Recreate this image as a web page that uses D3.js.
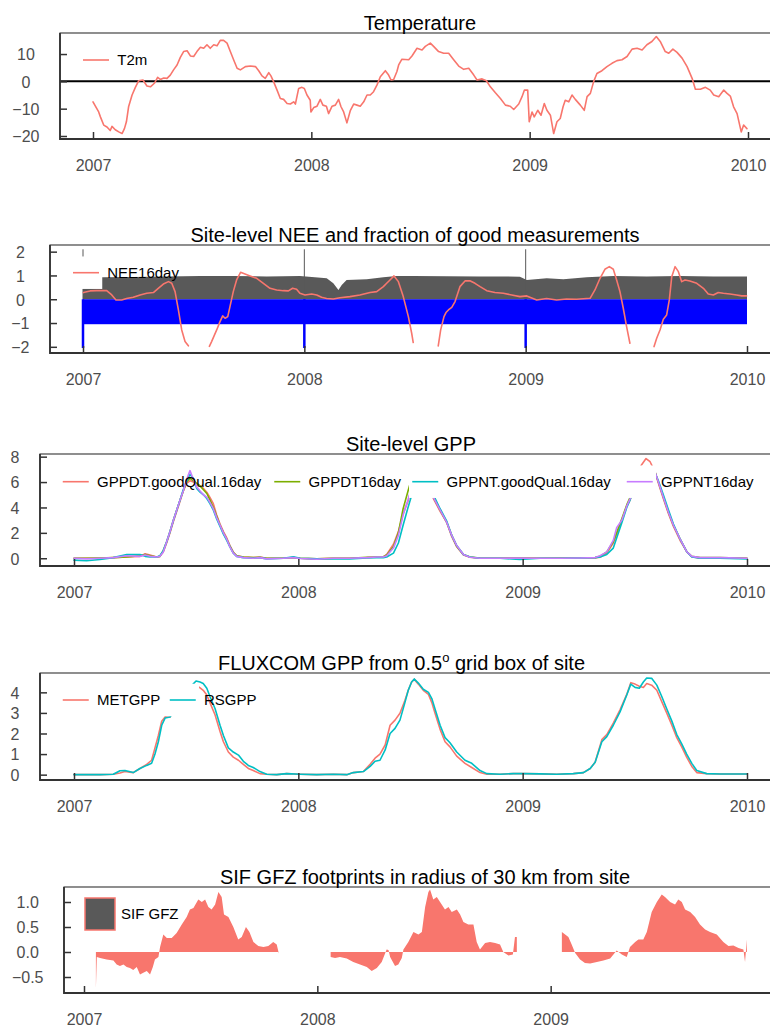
<!DOCTYPE html>
<html>
<head>
<meta charset="utf-8">
<script src="https://cdn.jsdelivr.net/npm/d3@7"></script>
<style>
  html, body { margin: 0; padding: 0; background: #fff; }
  svg { display: block; font-family: "Liberation Sans", Arial, Helvetica, sans-serif; }
</style>
</head>
<body>
<svg id="chart" width="770" height="1027"></svg>
<script>
// ---------------------------------------------------------------------------
// Data (time axis in decimal years)
// ---------------------------------------------------------------------------
const yearTicks = [2007, 2008, 2009, 2010];
const sifYearTicks = [2007, 2008, 2009];

// 2 m air temperature (deg C)
const t2m = [
  [2007.000,-7.5],[2007.011,-9.1],[2007.026,-11.2],[2007.034,-13],[2007.049,-16],[2007.064,-16.7],
  [2007.079,-18],[2007.087,-16.5],[2007.102,-17.7],[2007.118,-18.5],[2007.133,-19.1],[2007.144,-17.3],
  [2007.153,-14.8],[2007.163,-9.3],[2007.179,-5],[2007.194,-2.2],[2007.209,0.2],[2007.229,0.5],
  [2007.247,-1.7],[2007.263,-2],[2007.281,-0.7],[2007.296,1.5],[2007.308,0.7],[2007.324,1.2],
  [2007.339,1.1],[2007.354,2.3],[2007.369,4.2],[2007.385,6],[2007.400,8.8],[2007.415,10.9],
  [2007.431,11.2],[2007.446,9.3],[2007.461,9.1],[2007.476,10.9],[2007.492,12.5],[2007.507,12.1],
  [2007.522,13.4],[2007.537,12.1],[2007.553,13.4],[2007.568,13],[2007.583,15],[2007.598,15],
  [2007.614,14],[2007.629,10.9],[2007.644,7.9],[2007.660,4.8],[2007.675,4.2],[2007.698,5.4],
  [2007.721,5.6],[2007.744,5.4],[2007.759,3.9],[2007.774,2],[2007.789,1.1],[2007.805,3.2],
  [2007.815,2],[2007.827,-0.1],[2007.843,-3.2],[2007.858,-6.3],[2007.873,-6.6],[2007.889,-8.1],
  [2007.904,-8.3],[2007.919,-7.5],[2007.927,-8.3],[2007.942,-2.6],[2007.957,-2.2],[2007.968,-2.6],
  [2007.980,-5],[2007.995,-6.9],[2007.998,-11.2],[2008.011,-9.6],[2008.026,-9.1],[2008.041,-6.6],
  [2008.053,-8.7],[2008.069,-9.1],[2008.079,-11.8],[2008.095,-9.1],[2008.110,-8.7],[2008.125,-6.6],
  [2008.136,-9.3],[2008.148,-11.2],[2008.163,-15.2],[2008.179,-10.6],[2008.194,-8.3],[2008.209,-8.7],
  [2008.224,-9.1],[2008.240,-7.5],[2008.255,-5],[2008.270,-5],[2008.285,-3.8],[2008.301,-1.3],
  [2008.316,1.7],[2008.339,3.9],[2008.354,2.3],[2008.365,0.5],[2008.377,0.7],[2008.392,3.6],
  [2008.400,6],[2008.415,8.1],[2008.446,7.9],[2008.461,9.3],[2008.484,12.1],[2008.507,11.5],
  [2008.522,12.8],[2008.545,14],[2008.560,12.8],[2008.583,10.9],[2008.606,10.3],[2008.629,10.3],
  [2008.652,7.9],[2008.675,5.6],[2008.698,4.4],[2008.721,4.8],[2008.744,2.3],[2008.759,0.5],
  [2008.782,0.9],[2008.802,0.2],[2008.820,-2],[2008.843,-4.2],[2008.866,-6.3],[2008.889,-8.7],
  [2008.911,-9.1],[2008.927,-10.3],[2008.950,-8.3],[2008.965,-5.6],[2008.976,-3.2],[2008.991,-3.2],
  [2008.998,-14.8],[2009.011,-11.2],[2009.021,-13],[2009.037,-10.6],[2009.052,-12.4],[2009.067,-8.1],
  [2009.079,-10.6],[2009.095,-12.4],[2009.110,-19.1],[2009.125,-14.8],[2009.140,-13.6],[2009.153,-9.3],
  [2009.163,-6.9],[2009.179,-7.5],[2009.194,-5],[2009.209,-6.6],[2009.232,-8.7],[2009.250,-10.6],
  [2009.263,-5.6],[2009.278,-4.4],[2009.293,-0.1],[2009.308,2.9],[2009.331,3.9],[2009.354,5.4],
  [2009.377,6.6],[2009.400,7.6],[2009.423,7.9],[2009.446,9.1],[2009.469,11.8],[2009.492,12.1],
  [2009.515,11.5],[2009.537,13.4],[2009.560,14.6],[2009.580,16.4],[2009.598,14.6],[2009.621,10.9],
  [2009.637,10.3],[2009.656,11.8],[2009.675,10.6],[2009.698,8.5],[2009.721,5.4],[2009.744,1.1],
  [2009.759,-2.9],[2009.782,-2.9],[2009.805,-2.2],[2009.827,-3.2],[2009.843,-5],[2009.866,-5.6],
  [2009.889,-3.2],[2009.904,-4.4],[2009.919,-5.4],[2009.934,-9.3],[2009.950,-11.8],[2009.969,-18.5],
  [2009.980,-16],[2009.995,-17.3]
];

// Site-level NEE, 16-day smoothed (null = outside the plotted range)
const nee16day = [
  [2007.002,0.28],[2007.032,0.35],[2007.062,0.36],[2007.092,0.36],[2007.107,0.36],[2007.130,0.18],
  [2007.149,-0.03],[2007.175,-0.03],[2007.197,0.03],[2007.227,0.08],[2007.258,0.18],[2007.288,0.25],
  [2007.318,0.28],[2007.340,0.46],[2007.363,0.64],[2007.386,0.74],[2007.401,0.67],[2007.416,0.32],
  [2007.431,-0.45],[2007.446,-1.29],[2007.461,-1.78],[2007.476,-1.96],[2007.520,null],
  [2007.571,-1.98],[2007.581,-1.78],[2007.604,-1.29],[2007.619,-0.94],[2007.631,-0.7],[2007.642,-0.8],
  [2007.654,-0.73],[2007.664,-0.31],[2007.679,0.32],[2007.694,0.81],[2007.712,1.13],[2007.732,1.06],
  [2007.755,0.98],[2007.785,0.88],[2007.815,0.67],[2007.845,0.46],[2007.875,0.39],[2007.905,0.36],
  [2007.928,0.35],[2007.947,0.46],[2007.965,0.42],[2007.980,0.25],[2008.003,0.18],[2008.033,0.22],
  [2008.056,0.18],[2008.078,0.08],[2008.101,0.03],[2008.131,0.01],[2008.161,0.06],[2008.206,0.11],
  [2008.251,0.18],[2008.297,0.28],[2008.327,0.32],[2008.357,0.53],[2008.372,0.67],[2008.387,0.81],
  [2008.405,0.98],[2008.425,0.74],[2008.447,0.11],[2008.470,-0.73],[2008.485,-1.43],[2008.492,-1.82],
  [2008.550,null],
  [2008.605,-1.96],[2008.616,-1.29],[2008.631,-0.73],[2008.640,-0.56],[2008.651,-0.45],[2008.666,-0.34],
  [2008.681,-0.1],[2008.703,0.53],[2008.726,0.77],[2008.748,0.78],[2008.771,0.67],[2008.794,0.53],
  [2008.824,0.36],[2008.861,0.28],[2008.899,0.25],[2008.937,0.18],[2008.974,0.11],[2009.005,0.14],
  [2009.050,-0.03],[2009.095,0.03],[2009.140,-0.03],[2009.185,0.01],[2009.230,0.0],[2009.291,0.04],
  [2009.313,0.39],[2009.336,0.88],[2009.358,1.26],[2009.378,1.37],[2009.396,1.26],[2009.411,0.81],
  [2009.426,0.32],[2009.441,-0.38],[2009.456,-1.15],[2009.471,-1.85],[2009.520,null],
  [2009.580,-1.99],[2009.592,-1.64],[2009.607,-1.29],[2009.622,-0.84],[2009.637,-0.66],[2009.649,-0.03],
  [2009.660,0.95],[2009.675,1.37],[2009.690,1.16],[2009.705,0.74],[2009.720,0.81],[2009.742,0.77],
  [2009.773,0.67],[2009.803,0.46],[2009.825,0.22],[2009.848,0.18],[2009.870,0.28],[2009.893,0.25],
  [2009.923,0.22],[2009.953,0.18],[2009.976,0.14],[2009.998,0.14]
];

// Fraction of good measurements
const goodFraction = [
  [2007.000,0.90],[2007.092,0.92],[2007.227,0.94],[2007.378,0.96],[2007.529,0.98],[2007.679,0.98],
  [2007.830,0.96],[2007.980,0.98],[2008.101,0.88],[2008.131,0.67],[2008.154,0.39],[2008.169,0.60],
  [2008.191,0.81],[2008.282,0.84],[2008.357,0.92],[2008.417,0.98],[2008.492,0.98],[2008.794,0.96],
  [2008.974,0.95],[2009.005,0.81],[2009.095,0.88],[2009.170,0.84],[2009.276,0.92],[2009.396,0.98],
  [2009.547,0.96],[2009.697,0.98],[2009.848,0.96],[2010.000,0.96]
];
// Quality flag band and year-start flags
const qcSpan = [2007.0, 2010.0];
const qcLevel = -1.05;
const flagYears = [2007, 2008, 2009];
const flagHigh = 2.1;
const flagLow = -2.05;

// Site-level GPP (four partitioning variants)
const gppTime = [
  2007.000,2007.056,2007.116,2007.175,2007.235,2007.294,2007.317,2007.339,2007.369,2007.383,
  2007.398,2007.413,2007.428,2007.443,2007.458,2007.473,2007.487,2007.502,2007.517,2007.532,
  2007.547,2007.562,2007.577,2007.592,2007.606,2007.621,2007.636,2007.651,2007.666,2007.681,
  2007.695,2007.710,2007.725,2007.755,2007.799,2007.829,2007.859,2007.933,2007.978,2008.008,
  2008.082,2008.156,2008.230,2008.305,2008.350,2008.379,2008.394,2008.424,2008.446,2008.467,
  2008.489,2008.516,2008.543,2008.574,2008.602,2008.632,2008.662,2008.684,2008.706,2008.736,
  2008.765,2008.810,2008.899,2008.988,2009.078,2009.167,2009.256,2009.323,2009.345,2009.375,
  2009.404,2009.419,2009.442,2009.464,2009.479,2009.506,2009.528,2009.550,2009.568,2009.590,
  2009.605,2009.627,2009.650,2009.672,2009.702,2009.732,2009.754,2009.791,2009.880,2010.000
];
const gppDTgood = [
  0,0,0,0.05,0.1,0.15,0.35,0.25,0.1,0.15,
  0.5,1.2,2.0,2.9,3.7,4.5,5.3,5.9,6.1,6.0,
  5.9,5.7,5.5,5.2,4.8,4.3,3.4,2.7,2.1,1.6,
  1.0,0.5,0.2,0.1,0.05,0.1,0,0,0.05,0,
  -0.05,0,0,0.05,0.1,0.1,0.3,1.1,2.1,3.5,
  4.5,6.2,8.6,8.4,4.7,3.7,2.8,1.7,0.9,0.26,
  0.08,0,0,0.02,0,0,0.02,0.03,0.08,0.4,
  1.2,1.9,3.0,4.1,4.6,6.0,7.3,7.85,7.6,6.8,
  5.9,4.7,3.5,2.5,1.4,0.5,0.13,0,0,0
];
const gppDT = [
  0,0,0.02,0.05,0.1,0.2,0.3,0.2,0.1,0.15,
  0.6,1.3,2.1,3.0,3.8,4.6,5.3,6.0,6.3,6.1,
  5.9,5.7,5.4,5.1,4.6,4.0,3.3,2.6,2.0,1.5,
  0.95,0.45,0.2,0.1,0.05,0.08,0,0,0.05,0,
  -0.05,0,0,0.08,0.1,0.12,0.25,0.9,2.0,3.9,
  5.3,7.0,9.0,8.6,4.8,3.8,2.8,1.8,0.95,0.3,
  0.1,0.02,0,0.02,0,0.02,0.02,0.05,0.15,0.5,
  1.3,2.0,3.1,4.2,4.8,6.2,7.1,7.2,7.1,6.8,
  6.0,4.8,3.6,2.6,1.5,0.5,0.15,0.05,0.05,0
];
const gppNTgood = [
  -0.15,-0.2,-0.1,0.05,0.3,0.3,0.15,0.1,0.1,0.2,
  0.6,1.3,2.1,3.0,3.8,4.6,5.4,6.1,6.6,6.3,
  5.5,5.2,5.0,4.7,4.3,3.8,3.1,2.5,1.9,1.4,
  0.9,0.4,0.15,0.05,0,0.05,-0.05,0,0.12,0,
  -0.05,-0.05,-0.05,0.02,0.05,0.05,0.1,0.4,1.2,2.6,
  4.0,5.6,8.4,8.5,5.0,3.9,2.9,1.8,1.0,0.3,
  0.1,0,0,-0.1,0,0,0.02,0.05,0.1,0.3,
  0.8,1.6,2.8,4.0,4.6,5.9,7.0,7.1,7.0,6.7,
  6.1,5.0,3.8,2.7,1.5,0.5,0.1,0,0,-0.05
];
const gppNT = [
  0,-0.05,0,0.05,0.2,0.15,0.25,0.15,0.1,0.15,
  0.5,1.3,2.1,3.0,3.8,4.6,5.3,6.2,6.9,6.2,
  5.6,5.3,5.0,4.8,4.4,3.9,3.2,2.6,2.0,1.5,
  0.9,0.4,0.15,0.05,0,0.05,-0.05,0,0.05,-0.02,
  -0.08,0,0,0.05,0.1,0.1,0.2,0.8,1.8,3.4,
  4.6,6.3,8.5,8.4,4.8,3.8,2.8,1.8,1.0,0.3,
  0.08,0,0,0.02,0,0,0.02,0.05,0.2,0.5,
  1.4,2.4,3.0,4.1,4.7,6.0,7.0,7.2,7.1,6.8,
  6.0,4.8,3.6,2.6,1.5,0.5,0.15,0.05,0.05,0
];

// FLUXCOM GPP (0.5 degree grid box)
const fluxTime = [
  2007.000,2007.116,2007.175,2007.205,2007.227,2007.264,2007.294,2007.324,2007.346,2007.361,
  2007.376,2007.391,2007.406,2007.428,2007.450,2007.495,2007.531,2007.544,2007.562,2007.576,
  2007.592,2007.606,2007.629,2007.651,2007.666,2007.688,2007.710,2007.733,2007.755,2007.777,
  2007.799,2007.829,2007.859,2007.904,2007.948,2008.008,2008.082,2008.156,2008.216,2008.245,
  2008.290,2008.320,2008.342,2008.364,2008.387,2008.409,2008.431,2008.453,2008.475,2008.490,
  2008.505,2008.517,2008.535,2008.557,2008.580,2008.595,2008.609,2008.632,2008.654,2008.676,
  2008.706,2008.743,2008.773,2008.810,2008.840,2008.899,2008.958,2009.003,2009.078,2009.152,
  2009.226,2009.271,2009.301,2009.323,2009.353,2009.375,2009.404,2009.434,2009.464,2009.482,
  2009.501,2009.520,2009.538,2009.553,2009.575,2009.598,2009.620,2009.642,2009.665,2009.687,
  2009.709,2009.731,2009.754,2009.776,2009.820,2009.880,2009.999
];
const metGPP = [
  0,0,0.02,0.08,0.15,0.1,0.3,0.5,0.7,1.3,
  1.9,2.6,2.8,2.8,3.3,4.0,4.3,4.35,4.22,4.1,
  3.87,3.5,2.9,2.1,1.6,1.1,0.85,0.7,0.5,0.3,
  0.2,0.05,0.02,0,0.05,0.02,0,0.02,0,0.1,
  0.15,0.5,0.8,1.0,1.44,2.4,2.65,2.98,3.6,4.1,
  4.5,4.63,4.4,4.1,3.9,3.5,3.0,2.2,1.6,1.35,
  0.9,0.55,0.35,0.1,0.02,0.02,0.05,0.05,0.04,0.02,
  0.05,0.1,0.3,0.6,1.7,1.95,2.5,3.15,3.9,4.47,
  4.4,4.3,4.24,4.43,4.35,4.1,3.55,3.0,2.4,1.8,
  1.35,0.85,0.4,0.1,0.05,0.03,0.03
];
const rsGPP = [
  0,0,0.02,0.19,0.2,0.1,0.3,0.45,0.55,1.0,
  1.6,2.4,2.75,2.8,3.2,3.9,4.4,4.55,4.5,4.43,
  4.2,3.8,3.2,2.4,1.9,1.3,1.1,0.95,0.65,0.45,
  0.35,0.15,0.02,0,0.05,0.02,0,0.02,0,0.1,
  0.15,0.4,0.65,0.7,1.2,2.0,2.25,2.65,3.5,4.1,
  4.5,4.65,4.45,4.15,4.0,3.7,3.2,2.4,1.8,1.55,
  1.1,0.7,0.55,0.2,0.05,0.02,0.05,0.05,0.04,0.02,
  0.05,0.1,0.3,0.6,1.6,1.85,2.4,3.05,3.87,4.4,
  4.24,4.2,4.5,4.7,4.68,4.35,3.8,3.2,2.6,1.95,
  1.5,1.0,0.55,0.2,0.05,0.03,0.03
];

// SIF GFZ footprints within 30 km (null = no retrievals)
const sifGFZ = [
  [2007.051,-0.73],[2007.055,-0.1],[2007.069,-0.12],[2007.097,-0.15],[2007.126,-0.17],[2007.140,-0.25],
  [2007.154,-0.28],[2007.169,-0.25],[2007.183,-0.3],[2007.197,-0.32],[2007.211,-0.36],[2007.226,-0.3],
  [2007.240,-0.45],[2007.252,-0.42],[2007.269,-0.38],[2007.283,-0.45],[2007.295,-0.3],[2007.304,-0.15],
  [2007.319,-0.1],[2007.326,0.1],[2007.340,0.35],[2007.355,0.28],[2007.376,0.28],[2007.397,0.38],
  [2007.419,0.55],[2007.440,0.7],[2007.454,0.85],[2007.469,0.88],[2007.490,1.05],[2007.505,1.0],
  [2007.519,1.05],[2007.533,0.9],[2007.547,0.85],[2007.562,0.95],[2007.576,1.2],[2007.590,1.1],
  [2007.600,0.75],[2007.619,0.7],[2007.640,0.5],[2007.661,0.25],[2007.676,0.3],[2007.694,0.5],
  [2007.709,0.4],[2007.726,0.2],[2007.747,0.12],[2007.769,0.1],[2007.790,0.12],[2007.811,0.2],
  [2007.826,0.15],[2007.835,-0.03],[2007.950,null],
  [2008.057,-0.1],[2008.076,-0.12],[2008.097,-0.1],[2008.126,-0.13],[2008.154,-0.2],[2008.183,-0.25],
  [2008.212,-0.3],[2008.233,-0.38],[2008.255,-0.32],[2008.276,-0.2],[2008.297,0.05],[2008.305,0.04],
  [2008.312,-0.1],[2008.333,-0.28],[2008.347,-0.25],[2008.362,-0.12],[2008.369,0.05],[2008.390,0.2],
  [2008.412,0.4],[2008.433,0.35],[2008.448,0.4],[2008.462,0.9],[2008.476,1.2],[2008.483,1.25],
  [2008.497,1.05],[2008.512,1.1],[2008.533,0.95],[2008.547,0.85],[2008.562,0.9],[2008.576,0.8],
  [2008.598,0.85],[2008.612,0.75],[2008.626,0.6],[2008.647,0.55],[2008.669,0.55],[2008.683,0.2],
  [2008.697,0.05],[2008.719,0.18],[2008.740,0.2],[2008.762,0.18],[2008.783,0.15],[2008.797,0.0],
  [2008.819,-0.07],[2008.838,-0.05],[2008.847,0.3],[2008.855,0.3],[2008.950,null],
  [2009.048,0.4],[2009.062,0.35],[2009.076,0.3],[2009.090,0.15],[2009.105,-0.02],[2009.126,-0.15],
  [2009.147,-0.22],[2009.169,-0.23],[2009.198,-0.2],[2009.226,-0.17],[2009.255,-0.13],[2009.283,0.03],
  [2009.305,-0.05],[2009.326,-0.1],[2009.340,0.1],[2009.362,0.2],[2009.376,0.25],[2009.397,0.25],
  [2009.412,0.4],[2009.433,0.8],[2009.455,1.0],[2009.476,1.15],[2009.490,1.1],[2009.512,1.0],
  [2009.533,0.95],[2009.547,1.05],[2009.562,1.0],[2009.576,0.85],[2009.598,0.8],[2009.619,0.7],
  [2009.640,0.55],[2009.662,0.45],[2009.683,0.4],[2009.712,0.35],[2009.740,0.2],[2009.762,0.12],
  [2009.783,0.13],[2009.805,0.08],[2009.826,0.05],[2009.833,-0.2],[2009.841,0.25]
];

// ---------------------------------------------------------------------------
// Styling
// ---------------------------------------------------------------------------
const RED = "#F8766D", GREEN = "#7CAE00", CYAN = "#00BFC4", PURPLE = "#C77CFF";
const FRAME = "#333333", TICK_TEXT = "#4D4D4D", BAR_GREY = "#595959", QC_BLUE = "#0000FF";

const svg = d3.select("#chart");

// Panel geometry
const panels = {
  temp: { left: 60, top: 33, bottom: 139, x07: 93, x10: 748, xEnd: 2010.15,
          yDomain: [-21.1, 17.7], yTicks: [-20, -10, 0, 10], yFormat: d3.format("d"),
          xTicks: yearTicks, title: "Temperature", titleX: 420 },
  nee:  { left: 50, top: 245, bottom: 353, x07: 83, x10: 747, xEnd: 2010.15,
          yDomain: [-2.26, 2.28], yTicks: [-2, -1, 0, 1, 2], yFormat: d3.format("d"),
          xTicks: yearTicks, title: "Site-level NEE and fraction of good measurements", titleX: 415 },
  gpp:  { left: 40, top: 454, bottom: 566, x07: 74, x10: 747, xEnd: 2010.15,
          yDomain: [-0.61, 8.21], yTicks: [0, 2, 4, 6, 8], yFormat: d3.format("d"),
          xTicks: yearTicks, title: "Site-level GPP", titleX: 411 },
  flux: { left: 40, top: 673, bottom: 780, x07: 74, x10: 747, xEnd: 2010.15,
          yDomain: [-0.26, 4.94], yTicks: [0, 1, 2, 3, 4], yFormat: d3.format("d"),
          xTicks: yearTicks, title: null, titleX: 401.5 },
  sif:  { left: 64, top: 887, bottom: 993, x07: 84, x10: 784, xEnd: 2009.98,
          yDomain: [-0.82, 1.30], yTicks: [-0.5, 0, 0.5, 1.0], yFormat: d3.format(".1f"),
          xTicks: sifYearTicks, title: "SIF GFZ footprints in radius of 30 km from site", titleX: 425 }
};

function makePanel(id) {
  const cfg = panels[id];
  const x = d3.scaleLinear().domain([2007, 2010]).range([cfg.x07, cfg.x10]);
  const y = d3.scaleLinear().domain(cfg.yDomain).range([cfg.bottom, cfg.top]);
  const right = x(cfg.xEnd);
  const g = svg.append("g").attr("class", "panel-" + id);
  const clipId = "clip-" + id;
  g.append("clipPath").attr("id", clipId).append("rect")
    .attr("x", cfg.left).attr("y", cfg.top)
    .attr("width", right - cfg.left).attr("height", cfg.bottom - cfg.top);
  const plot = g.append("g").attr("clip-path", `url(#${clipId})`);
  const over = g.append("g");
  return { id, cfg, x, y, right, g, plot, over };
}

function drawAxes(p) {
  const { cfg, x, y, right, over } = p;
  // panel border, with heavier left/bottom axis lines
  over.append("rect")
    .attr("x", cfg.left).attr("y", cfg.top)
    .attr("width", right - cfg.left).attr("height", cfg.bottom - cfg.top)
    .attr("fill", "none").attr("stroke", FRAME).attr("stroke-width", 1.1);
  over.append("path")
    .attr("d", `M${cfg.left},${cfg.top}V${cfg.bottom}H${right}`)
    .attr("fill", "none").attr("stroke", FRAME).attr("stroke-width", 1.8);

  // y axis: inward ticks, labels centred in their column
  const ya = over.append("g").attr("transform", `translate(${cfg.left},0)`)
    .call(d3.axisLeft(y).tickValues(cfg.yTicks).tickFormat(cfg.yFormat)
      .tickSizeInner(-7).tickSizeOuter(0));
  ya.attr("font-family", null).attr("font-size", null);
  ya.select(".domain").remove();
  ya.selectAll(".tick line").attr("stroke", FRAME).attr("stroke-width", 1.5);
  const yl = ya.selectAll(".tick text")
    .attr("fill", TICK_TEXT).style("font-size", "16px")
    .attr("text-anchor", "middle").attr("dy", "0.37em");
  let maxW = 0;
  yl.each(function () { maxW = Math.max(maxW, this.getComputedTextLength()); });
  yl.attr("x", -(20.5 + maxW / 2));

  // x axis: inward ticks
  const xa = over.append("g").attr("transform", `translate(0,${cfg.bottom})`)
    .call(d3.axisBottom(x).tickValues(cfg.xTicks).tickFormat(d3.format("d"))
      .tickSizeInner(-7).tickSizeOuter(0));
  xa.attr("font-family", null).attr("font-size", null);
  xa.select(".domain").remove();
  xa.selectAll(".tick line").attr("stroke", FRAME).attr("stroke-width", 1.5);
  xa.selectAll(".tick text")
    .attr("fill", TICK_TEXT).style("font-size", "16px")
    .attr("y", 32).attr("dy", 0);

  // title
  const t = svg.append("text")
    .attr("x", cfg.titleX).attr("y", cfg.top - 3.5)
    .attr("text-anchor", "middle").attr("fill", "#000")
    .style("font-size", "20px");
  return t;
}

function legendLine(p, boxX, cy, color, label) {
  const L = p.over.append("g");
  L.append("rect").attr("x", boxX).attr("y", cy - 16.25)
    .attr("width", 32.5).attr("height", 32.5).attr("fill", "#fff");
  L.append("line").attr("x1", boxX + 3.25).attr("x2", boxX + 29.25)
    .attr("y1", cy).attr("y2", cy)
    .attr("stroke", color).attr("stroke-width", 1.6);
  L.append("text").attr("x", boxX + 37.5).attr("y", cy + 5.4)
    .attr("fill", "#000").style("font-size", "15px").text(label);
}

function pathLine(p, pts, color, maxV) {
  const hi = maxV === undefined ? Infinity : maxV;
  const line = d3.line()
    .defined(d => d[1] !== null && d[1] <= hi)
    .x(d => p.x(d[0])).y(d => p.y(d[1]));
  p.plot.append("path").datum(pts)
    .attr("d", line).attr("fill", "none")
    .attr("stroke", color).attr("stroke-width", 1.6)
    .attr("stroke-linejoin", "round").attr("stroke-linecap", "round");
}

// ---------------------------------------------------------------------------
// Panel 1: Temperature
// ---------------------------------------------------------------------------
{
  const p = makePanel("temp");
  p.plot.append("line")
    .attr("x1", p.cfg.left).attr("x2", p.right)
    .attr("y1", p.y(0)).attr("y2", p.y(0))
    .attr("stroke", "#000").attr("stroke-width", 2);
  pathLine(p, t2m, RED);
  drawAxes(p).text(p.cfg.title);
  legendLine(p, 79.75, 60, RED, "T2m");
}

// ---------------------------------------------------------------------------
// Panel 2: NEE and fraction of good measurements
// ---------------------------------------------------------------------------
{
  const p = makePanel("nee");
  // good-measurement fraction
  p.plot.append("path").datum(goodFraction)
    .attr("d", d3.area().x(d => p.x(d[0])).y0(p.y(0)).y1(d => p.y(d[1])))
    .attr("fill", BAR_GREY);
  p.plot.selectAll("rect.flag-hi").data(flagYears).join("rect")
    .attr("class", "flag-hi")
    .attr("x", d => p.x(d) - 0.5).attr("width", 1)
    .attr("y", p.y(flagHigh)).attr("height", p.y(0) - p.y(flagHigh))
    .attr("fill", BAR_GREY);
  // quality flag band
  p.plot.append("rect")
    .attr("x", p.x(qcSpan[0])).attr("width", p.x(qcSpan[1]) - p.x(qcSpan[0]))
    .attr("y", p.y(0)).attr("height", p.y(qcLevel) - p.y(0))
    .attr("fill", QC_BLUE);
  p.plot.selectAll("rect.flag-lo").data(flagYears).join("rect")
    .attr("class", "flag-lo")
    .attr("x", d => p.x(d) - 1.25).attr("width", 2.5)
    .attr("y", p.y(0)).attr("height", p.y(flagLow) - p.y(0))
    .attr("fill", QC_BLUE);
  pathLine(p, nee16day, RED);
  drawAxes(p).text(p.cfg.title);
  legendLine(p, 69.75, 272.7, RED, "NEE16day");
}

// ---------------------------------------------------------------------------
// Panel 3: Site-level GPP
// ---------------------------------------------------------------------------
{
  const p = makePanel("gpp");
  const top = p.cfg.yDomain[1];
  const series = [
    { v: gppDTgood, c: RED,    name: "GPPDT.goodQual.16day", box: 59.5 },
    { v: gppDT,     c: GREEN,  name: "GPPDT16day",           box: 271 },
    { v: gppNTgood, c: CYAN,   name: "GPPNT.goodQual.16day", box: 409 },
    { v: gppNT,     c: PURPLE, name: "GPPNT16day",           box: 623.5 }
  ];
  series.forEach(s => pathLine(p, gppTime.map((t, i) => [t, s.v[i]]), s.c, top));
  drawAxes(p).text(p.cfg.title);
  series.forEach(s => legendLine(p, s.box, 481.7, s.c, s.name));
}

// ---------------------------------------------------------------------------
// Panel 4: FLUXCOM GPP
// ---------------------------------------------------------------------------
{
  const p = makePanel("flux");
  pathLine(p, fluxTime.map((t, i) => [t, metGPP[i]]), RED);
  pathLine(p, fluxTime.map((t, i) => [t, rsGPP[i]]), CYAN);
  const t = drawAxes(p);
  t.append("tspan").text("FLUXCOM GPP from 0.5");
  t.append("tspan").attr("dy", -8).style("font-size", "13px").text("o");
  t.append("tspan").attr("dy", 8).text(" grid box of site");
  legendLine(p, 59.5, 700, RED, "METGPP");
  legendLine(p, 166.5, 700, CYAN, "RSGPP");
}

// ---------------------------------------------------------------------------
// Panel 5: SIF GFZ
// ---------------------------------------------------------------------------
{
  const p = makePanel("sif");
  p.plot.append("path").datum(sifGFZ)
    .attr("d", d3.area()
      .defined(d => d[1] !== null)
      .x(d => p.x(d[0])).y0(p.y(0)).y1(d => p.y(d[1])))
    .attr("fill", RED);
  drawAxes(p).text(p.cfg.title);
  const L = p.over.append("g");
  L.append("rect").attr("x", 85).attr("y", 898).attr("width", 30).attr("height", 32)
    .attr("fill", BAR_GREY).attr("stroke", RED).attr("stroke-width", 1.5);
  L.append("text").attr("x", 121).attr("y", 918.5)
    .attr("fill", "#000").style("font-size", "15px").text("SIF GFZ");
}
</script>
</body>
</html>
